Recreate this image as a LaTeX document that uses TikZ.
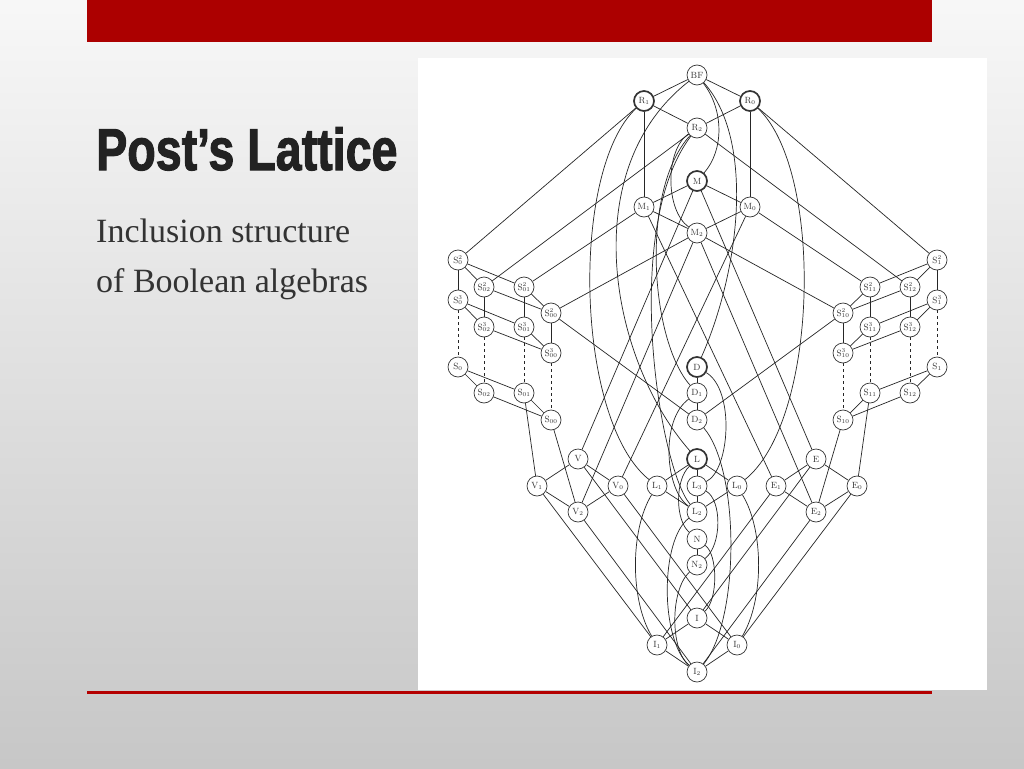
\documentclass[tikz,border=0pt]{standalone}
\usepackage{fontspec}
\usepackage{graphicx}
\newfontfamily\titlefont{Liberation Sans}[BoldFeatures={FakeBold=2}]
\newfontfamily\bodyfont{Liberation Serif}
\definecolor{post_red}{RGB}{172, 0, 0}
\definecolor{post_line}{RGB}{180, 0, 0}
\definecolor{post_title}{RGB}{34, 34, 34}
\definecolor{post_text}{RGB}{51, 51, 51}
\pgfdeclarelayer{slide}
\pgfdeclarelayer{links}
\pgfsetlayers{slide,links,main}

\begin{document}
\begin{tikzpicture}[x=1pt, y=-1pt,
    clone/.style={circle, draw=black!80, line width=0.7pt, fill=white,
      minimum size=20pt, inner sep=0pt, text=black!80,
      font=\fontsize{9}{9}\selectfont},
    maxclone/.style={clone, line width=1.7pt},
    cover/.style={line width=0.7pt, black!85},
    ladder/.style={cover, dashed}]
  \useasboundingbox (0,0) rectangle (1024,768);

  % --- Slide background ---
  \begin{pgfonlayer}{slide}
    \shade[top color=black!3, bottom color=black!22] (0,0) rectangle (1024,768);
    \fill[post_red] (87,0) rectangle (932,42);
    \fill[post_line] (87,691) rectangle (932,694);
    \fill[white] (418,58) rectangle (987,690);
  \end{pgfonlayer}

  % --- Title and subtitle ---
  \node[anchor=base west, inner sep=0pt, text=post_title] (title) at (96,170)
    {\scalebox{0.79}[1]{\fontsize{59}{60}\titlefont\bfseries Post’s Lattice}};
  \node[anchor=base west, inner sep=0pt, text=post_text,
    font=\fontsize{34}{40}\bodyfont] (sub1) at (96,242) {Inclusion structure};
  \node[anchor=base west, inner sep=0pt, text=post_text,
    font=\fontsize{34}{40}\bodyfont] (sub2) at (96,292) {of Boolean algebras};

  % --- Top: BF, R, M ---
  \node[clone] (BF) at (697,75) {BF};
  \node[maxclone] (R1) at (644,101) {$\mathrm{R}_1$};
  \node[maxclone] (R0) at (750,101) {$\mathrm{R}_0$};
  \node[clone] (R2) at (697,128) {$\mathrm{R}_2$};
  \node[maxclone] (M) at (697,181) {M};
  \node[clone] (M1) at (644,207) {$\mathrm{M}_1$};
  \node[clone] (M0) at (750,207) {$\mathrm{M}_0$};
  \node[clone] (M2) at (697,233) {$\mathrm{M}_2$};

  % --- Left block S0 ---
  \node[clone] (S0a) at (458,260) {$\mathrm{S}_0^2$};
  \node[clone] (S02a) at (484,287) {$\mathrm{S}_{02}^2$};
  \node[clone] (S01a) at (524,287) {$\mathrm{S}_{01}^2$};
  \node[clone] (S00a) at (551,313) {$\mathrm{S}_{00}^2$};
  \node[clone] (S0b) at (458,300) {$\mathrm{S}_0^3$};
  \node[clone] (S02b) at (484,327) {$\mathrm{S}_{02}^3$};
  \node[clone] (S01b) at (524,327) {$\mathrm{S}_{01}^3$};
  \node[clone] (S00b) at (551,353) {$\mathrm{S}_{00}^3$};
  \node[clone] (S0) at (458,367) {$\mathrm{S}_0$};
  \node[clone] (S02) at (484,393) {$\mathrm{S}_{02}$};
  \node[clone] (S01) at (524,393) {$\mathrm{S}_{01}$};
  \node[clone] (S00) at (551,420) {$\mathrm{S}_{00}$};

  % --- Right block S1 ---
  \node[clone] (S1a) at (937,260) {$\mathrm{S}_1^2$};
  \node[clone] (S12a) at (910,287) {$\mathrm{S}_{12}^2$};
  \node[clone] (S11a) at (870,287) {$\mathrm{S}_{11}^2$};
  \node[clone] (S10a) at (843,313) {$\mathrm{S}_{10}^2$};
  \node[clone] (S1b) at (937,300) {$\mathrm{S}_1^3$};
  \node[clone] (S12b) at (910,327) {$\mathrm{S}_{12}^3$};
  \node[clone] (S11b) at (870,327) {$\mathrm{S}_{11}^3$};
  \node[clone] (S10b) at (843,353) {$\mathrm{S}_{10}^3$};
  \node[clone] (S1) at (937,367) {$\mathrm{S}_1$};
  \node[clone] (S12) at (910,393) {$\mathrm{S}_{12}$};
  \node[clone] (S11) at (870,393) {$\mathrm{S}_{11}$};
  \node[clone] (S10) at (843,420) {$\mathrm{S}_{10}$};

  % --- D column ---
  \node[maxclone] (D) at (697,367) {D};
  \node[clone] (D1) at (697,393) {$\mathrm{D}_1$};
  \node[clone] (D2) at (697,420) {$\mathrm{D}_2$};

  % --- V, L, E ---
  \node[clone] (V) at (578,459) {V};
  \node[clone] (V1) at (537,486) {$\mathrm{V}_1$};
  \node[clone] (V0) at (618,486) {$\mathrm{V}_0$};
  \node[clone] (V2) at (578,512) {$\mathrm{V}_2$};
  \node[maxclone] (L) at (697,459) {L};
  \node[clone] (L1) at (657,486) {$\mathrm{L}_1$};
  \node[clone] (L3) at (697,486) {$\mathrm{L}_3$};
  \node[clone] (L0) at (737,486) {$\mathrm{L}_0$};
  \node[clone] (L2) at (697,512) {$\mathrm{L}_2$};
  \node[clone] (E) at (816,459) {E};
  \node[clone] (E1) at (776,486) {$\mathrm{E}_1$};
  \node[clone] (E0) at (857,486) {$\mathrm{E}_0$};
  \node[clone] (E2) at (816,512) {$\mathrm{E}_2$};

  % --- Bottom: N, I ---
  \node[clone] (N) at (697,539) {N};
  \node[clone] (N2) at (697,565) {$\mathrm{N}_2$};
  \node[clone] (I) at (697,618) {I};
  \node[clone] (I1) at (657,645) {$\mathrm{I}_1$};
  \node[clone] (I0) at (737,645) {$\mathrm{I}_0$};
  \node[clone] (I2) at (697,672) {$\mathrm{I}_2$};

  \begin{pgfonlayer}{links}
    % Straight covers
    \foreach \a/\b in {BF/R1, BF/R0, R1/R2, R0/R2, R1/M1, R0/M0, R1/S0a, R0/S1a,
        R2/S02a, R2/S12a, M/M1, M/M0, M/V, M/E, M1/M2, M0/M2, M1/S01a, M0/S11a,
        M1/E1, M0/V0, M2/S00a, M2/S10a, M2/V2, M2/E2} {
      \draw[cover] (\a) -- (\b);
    }
    \foreach \a/\b in {S0a/S0b, S0a/S02a, S0a/S01a, S02a/S02b, S02a/S00a,
        S01a/S01b, S01a/S00a, S00a/S00b, S00a/D2, S0b/S02b, S0b/S01b,
        S02b/S00b, S01b/S00b, S0/S02, S0/S01, S02/S00, S01/S00, S01/V1, S00/V2,
        S1a/S1b, S1a/S12a, S1a/S11a, S12a/S12b, S12a/S10a, S11a/S11b,
        S11a/S10a, S10a/S10b, S10a/D2, S1b/S12b, S1b/S11b, S12b/S10b,
        S11b/S10b, S1/S12, S1/S11, S12/S10, S11/S10, S11/E0, S10/E2} {
      \draw[cover] (\a) -- (\b);
    }
    \foreach \a/\b in {D/D1, D1/D2, L/L1, L/L0, L/L3, L1/L2, L0/L2, L3/L2, N/N2,
        V/V1, V/V0, V1/V2, V0/V2, V/I, V1/I1, V0/I0, V2/I2,
        E/E1, E/E0, E1/E2, E0/E2, E/I, E1/I1, E0/I0, E2/I2,
        I/I1, I/I0, I1/I2, I0/I2} {
      \draw[cover] (\a) -- (\b);
    }
    % Dashed ladders
    \foreach \a/\b in {S0b/S0, S02b/S02, S01b/S01, S00b/S00,
        S1b/S1, S12b/S12, S11b/S11, S10b/S10} {
      \draw[ladder] (\a) -- (\b);
    }
    % Curved covers
    \draw[cover] (BF) .. controls (724,110) and (724,150) .. (M);
    \draw[cover] (BF) .. controls (755,140) and (740,270) .. (D);
    \draw[cover] (BF) .. controls (575,170) and (610,360) .. (L);
    \draw[cover] (R1) .. controls (570,170) and (575,420) .. (L1);
    \draw[cover] (R0) .. controls (824,170) and (819,420) .. (L0);
    \draw[cover] (R2) .. controls (665,150) and (665,210) .. (M2);
    \draw[cover] (R2) .. controls (640,190) and (650,340) .. (D1);
    \draw[cover] (R2) .. controls (620,230) and (660,470) .. (L2);
    \draw[cover] (D) .. controls (735,390) and (730,470) .. (L3);
    \draw[cover] (D1) .. controls (660,420) and (665,490) .. (L2);
    \draw[cover] (D2) .. controls (740,470) and (740,620) .. (I2);
    \draw[cover] (L) .. controls (675,480) and (675,520) .. (N);
    \draw[cover] (L3) .. controls (722,500) and (722,545) .. (N2);
    \draw[cover] (N) .. controls (718,555) and (718,600) .. (I);
    \draw[cover] (N2) .. controls (670,590) and (670,650) .. (I2);
    \draw[cover] (L2) .. controls (660,540) and (660,640) .. (I2);
    \draw[cover] (L1) .. controls (630,530) and (630,600) .. (I1);
    \draw[cover] (L0) .. controls (764,530) and (764,600) .. (I0);
  \end{pgfonlayer}
\end{tikzpicture}
\end{document}
